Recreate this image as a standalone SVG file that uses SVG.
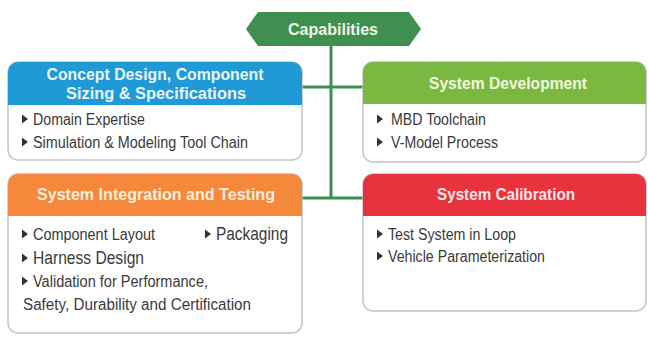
<svg xmlns="http://www.w3.org/2000/svg" width="648" height="338" viewBox="0 0 648 338">
<style>
.hd{font-family:"Liberation Sans",Arial,sans-serif;font-weight:bold;font-size:17px;text-anchor:middle}
.bt{font-family:"Liberation Sans",Arial,sans-serif;font-size:16px;fill:#3a3a3a}
.big{font-size:18px}
.body{fill:#ffffff;stroke:#c4c4c4;stroke-width:1.5}
.conn{stroke:#3f8f50;stroke-width:3;fill:none}
.tri{fill:#333333}
</style>
<defs>
<path id="b" d="M0,-4.5 L6,0 L0,4.5 Z"/>
</defs>
<rect width="648" height="338" fill="#ffffff"/>
<g id="connectors">
<line class="conn" x1="331" y1="46" x2="331" y2="199"/>
<line class="conn" x1="302" y1="87" x2="363" y2="87"/>
<line class="conn" x1="302" y1="198" x2="363" y2="198"/>
</g>
<g id="capabilities">
<polygon points="246,29 258,12 409,12 421,29 409,46 258,46" fill="#3f8f50"/>
<text x="333" y="35" class="hd" style="font-size:16px" fill="#eef7e6" textLength="90" lengthAdjust="spacingAndGlyphs">Capabilities</text>
</g>
<g id="concept-design">
<rect class="body" x="8" y="62" width="294" height="98" rx="10"/>
<path d="M8,105 V72 A10,10 0 0 1 18,62 H292 A10,10 0 0 1 302,72 V105 Z" fill="#1f9ad7"/>
<text x="155" y="80" class="hd" style="font-size:16.5px" fill="#eaf6fb" textLength="217" lengthAdjust="spacingAndGlyphs">Concept Design, Component</text>
<text x="156" y="98.5" class="hd" style="font-size:16.5px" fill="#eaf6fb" textLength="180" lengthAdjust="spacingAndGlyphs">Sizing &amp; Specifications</text>
<use href="#b" x="22" y="119" class="tri"/>
<text x="33" y="125" class="bt" textLength="112" lengthAdjust="spacingAndGlyphs">Domain Expertise</text>
<use href="#b" x="22" y="142" class="tri"/>
<text x="33" y="148" class="bt" textLength="215" lengthAdjust="spacingAndGlyphs">Simulation &amp; Modeling Tool Chain</text>
</g>
<g id="system-development">
<rect class="body" x="363" y="62" width="283" height="100" rx="10"/>
<path d="M363,104 V72 A10,10 0 0 1 373,62 H636 A10,10 0 0 1 646,72 V104 Z" fill="#7bb842"/>
<text x="508" y="89" class="hd" fill="#f3f9dc" textLength="158" lengthAdjust="spacingAndGlyphs">System Development</text>
<use href="#b" x="377" y="119" class="tri"/>
<text x="391" y="125" class="bt" textLength="95" lengthAdjust="spacingAndGlyphs">MBD Toolchain</text>
<use href="#b" x="377" y="142" class="tri"/>
<text x="391" y="148" class="bt" textLength="107" lengthAdjust="spacingAndGlyphs">V-Model Process</text>
</g>
<g id="system-integration">
<rect class="body" x="8" y="174" width="294" height="159" rx="10"/>
<path d="M8,216 V184 A10,10 0 0 1 18,174 H292 A10,10 0 0 1 302,184 V216 Z" fill="#f5883a"/>
<text x="156" y="200" class="hd" fill="#fdeedd" textLength="238" lengthAdjust="spacingAndGlyphs">System Integration and Testing</text>
<use href="#b" x="22" y="234" class="tri"/>
<text x="33" y="240" class="bt" textLength="122" lengthAdjust="spacingAndGlyphs">Component Layout</text>
<use href="#b" x="205" y="234" class="tri"/>
<text x="216" y="240" class="bt big" textLength="72" lengthAdjust="spacingAndGlyphs">Packaging</text>
<use href="#b" x="22" y="258" class="tri"/>
<text x="33" y="264" class="bt big" textLength="111" lengthAdjust="spacingAndGlyphs">Harness Design</text>
<use href="#b" x="22" y="281" class="tri"/>
<text x="33" y="287" class="bt" textLength="175" lengthAdjust="spacingAndGlyphs">Validation for Performance,</text>
<text x="23" y="310" class="bt" textLength="228" lengthAdjust="spacingAndGlyphs">Safety, Durability and Certification</text>
</g>
<g id="system-calibration">
<rect class="body" x="363" y="174" width="283" height="137" rx="10"/>
<path d="M363,216 V184 A10,10 0 0 1 373,174 H636 A10,10 0 0 1 646,184 V216 Z" fill="#e8323e"/>
<text x="506" y="200" class="hd" fill="#fde6e6" textLength="138" lengthAdjust="spacingAndGlyphs">System Calibration</text>
<use href="#b" x="377" y="234" class="tri"/>
<text x="388" y="240" class="bt" textLength="128" lengthAdjust="spacingAndGlyphs">Test System in Loop</text>
<use href="#b" x="377" y="256" class="tri"/>
<text x="388" y="262" class="bt" textLength="157" lengthAdjust="spacingAndGlyphs">Vehicle Parameterization</text>
</g>
</svg>
